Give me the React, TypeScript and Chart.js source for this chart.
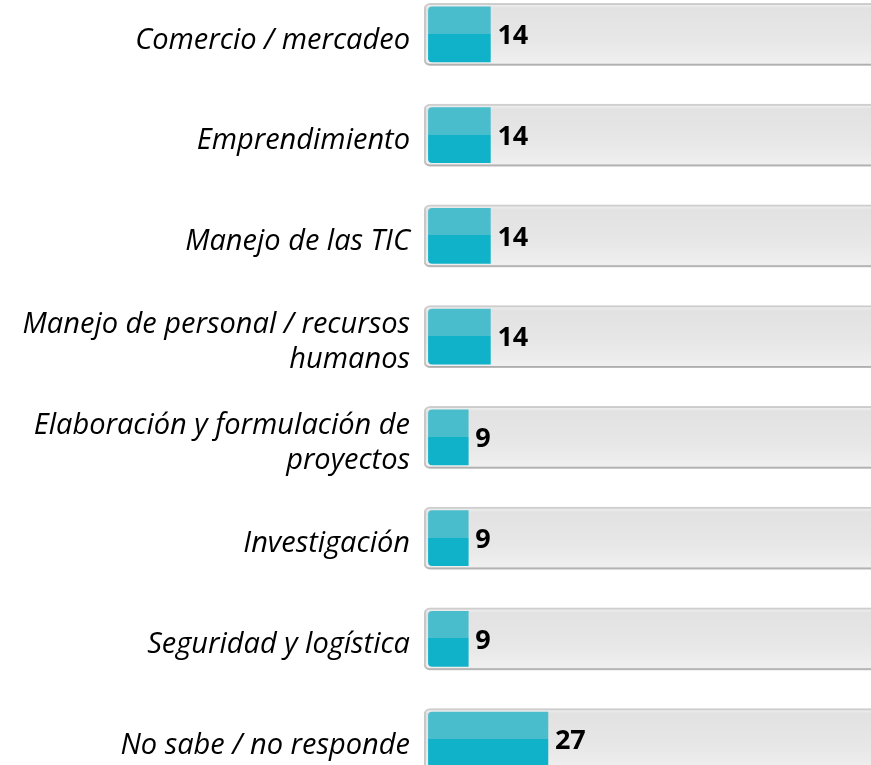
import React, { useEffect, useRef } from "react";
import { Chart, registerables } from "chart.js";

Chart.register(...registerables);

const categories: (string | string[])[] = [
  "Comercio / mercadeo",
  "Emprendimiento",
  "Manejo de las TIC",
  ["Manejo de personal / recursos", "humanos"],
  ["Elaboración y formulación de", "proyectos"],
  "Investigación",
  "Seguridad y logística",
  "No sabe / no responde",
];
const values = [14, 14, 14, 14, 9, 9, 9, 27];
const scaleMin = -1;
const scaleMax = 100;
const trackEnd = 110;

const W = 871;
const H = 806;

const shadowPlugin = {
  id: "trackShadow",
  beforeDatasetDraw(chart: any, args: any) {
    if (args.index === 0) {
      const ctx = chart.ctx;
      ctx.save();
      ctx.shadowColor = "rgba(0,0,0,0.22)";
      ctx.shadowBlur = 3;
      ctx.shadowOffsetY = 1.5;
    }
  },
  afterDatasetDraw(chart: any, args: any) {
    if (args.index === 0) chart.ctx.restore();
  },
};

const labelPlugin = {
  id: "valueLabels",
  afterDatasetsDraw(chart: any) {
    const ctx = chart.ctx;
    const meta = chart.getDatasetMeta(1);
    ctx.save();
    ctx.font = "bold 27px 'Open Sans'";
    ctx.fillStyle = "#000";
    ctx.textAlign = "left";
    ctx.textBaseline = "middle";
    meta.data.forEach((el: any, i: number) => {
      ctx.fillText(String(values[i]), el.x + 7, el.y + 2);
    });
    ctx.restore();
  },
};

function rowY(c: any): number | null {
  const ch = c.chart;
  const ys = ch.scales && ch.scales.y;
  if (!ys || c.dataIndex === undefined) return null;
  const y = ys.getPixelForValue(c.dataIndex);
  return Number.isFinite(y) ? y : null;
}

export default function App() {
  const ref = useRef<HTMLCanvasElement | null>(null);
  useEffect(() => {
    if (!ref.current) return;
    const chart = new Chart(ref.current, {
      type: "bar",
      data: {
        labels: categories as any,
        datasets: [
          {
            data: values.map(() => [scaleMin, trackEnd]) as any,
            grouped: false,
            order: 2,
            barThickness: 62,
            backgroundColor: (c: any) => {
              const y = rowY(c);
              if (y === null) return "#e8e8e8";
              const g = c.chart.ctx.createLinearGradient(0, y - 31, 0, y + 31);
              g.addColorStop(0, "#f4f4f4");
              g.addColorStop(0.08, "#e3e2e3");
              g.addColorStop(0.6, "#e7e7e7");
              g.addColorStop(1, "#f0f0f0");
              return g;
            },
            borderColor: "#d0d0d0",
            borderWidth: 2,
            borderRadius: 6,
            borderSkipped: false,
          },
          {
            data: values,
            grouped: false,
            order: 1,
            barThickness: 55,
            backgroundColor: (c: any) => {
              const y0 = rowY(c);
              if (y0 === null) return "#0fb2c9";
              const y = y0 + 0.5;
              const g = c.chart.ctx.createLinearGradient(0, y - 27.5, 0, y + 27.5);
              g.addColorStop(0, "#4abdcd");
              g.addColorStop(0.48, "#4abdcd");
              g.addColorStop(0.48, "#0fb2c9");
              g.addColorStop(1, "#0fb2c9");
              return g;
            },
            borderWidth: 0,
            borderRadius: { topLeft: 4, bottomLeft: 4, topRight: 0, bottomRight: 0 },
            borderSkipped: false,
          },
        ],
      },
      options: {
        indexAxis: "y",
        animation: false,
        responsive: false,
        maintainAspectRatio: false,
        layout: { padding: 0 },
        plugins: {
          legend: { display: false },
          tooltip: { enabled: false },
        },
        scales: {
          x: {
            display: false,
            min: scaleMin,
            max: scaleMax,
          },
          y: {
            grid: { display: false, drawTicks: false },
            border: { display: false },
            ticks: {
              padding: 14,
              labelOffset: 6,
              color: "#000",
              font: { family: "Open Sans", style: "italic", size: 29, lineHeight: 1.207 },
            },
            afterFit(scale: any) {
              scale.width = 424;
              scale.paddingTop = 0;
              scale.paddingBottom = 0;
            },
          },
        },
      },
      plugins: [shadowPlugin, labelPlugin],
    } as any);
    return () => chart.destroy();
  }, []);

  return (
    <div
      style={{
        position: "fixed",
        left: 0,
        top: 0,
        width: W,
        height: 765,
        overflow: "hidden",
        background: "#fff",
      }}
    >
      <canvas
        ref={ref}
        width={W}
        height={H}
        style={{ position: "absolute", left: 0, top: -16, width: W, height: H }}
      />
    </div>
  );
}
